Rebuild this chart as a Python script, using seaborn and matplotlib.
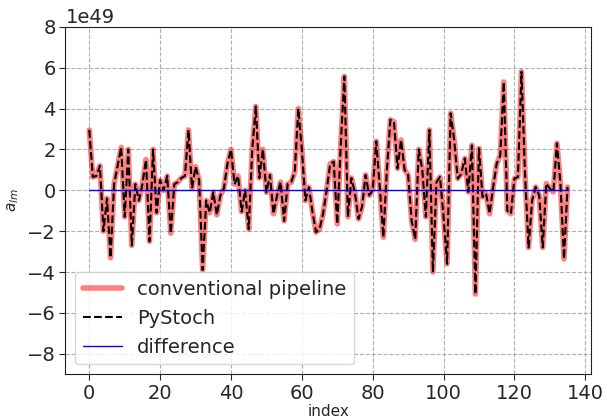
import numpy as np
import pandas as pd
import matplotlib
matplotlib.use("Agg")
import matplotlib.pyplot as plt
import seaborn as sns

# a_lm values (units of 1e49)
alm_conventional = [
    2.95, 0.65, 0.7, 1.2, -2.0, -0.4, -3.3, 0.3, 1.2, 2.1,
    -1.3, 2.0, -2.7, 0.3, -0.5, 0.3, 1.5, -2.5, 2.0, -1.1,
    0.5, 0.0, 0.7, -2.1, 0.3, 0.4, 0.6, 0.7, 2.95, 0.1,
    1.15, 0.5, -3.9, -0.5, -1.1, -0.1, -1.2, -0.25, 0.1, 1.3,
    2.0, 0.3, 0.7, -1.05, 0.0, -1.9, 2.0, 4.1, 0.6, 2.0,
    -0.1, 0.75, -1.15, -0.25, 0.4, -1.5, 0.3, 0.4, 0.9, 4.0,
    2.0, -0.5, 0.15, -1.05, -2.05, -1.9, -1.15, 0.0, 1.3, 1.4,
    -1.65, 2.3, 5.57, -1.3, 0.6, -0.15, -1.4, -0.8, 0.75, -0.25,
    0.0, 2.4, 0.15, -2.3, 1.0, 3.45, 3.36, 1.07, 2.46, 1.0,
    0.75, -1.5, -2.4, 2.0, 1.0, -1.3, 2.95, -4.0, 0.4, 0.65,
    -1.3, -3.6, 3.77, 2.46, 0.57, 0.8, 1.56, -0.08, 2.2, -5.08,
    2.05, -0.33, -0.16, -1.15, 0.16, 1.3, 1.7, 5.3, -1.0, -1.15,
    0.57, 0.65, 5.8, 0.8, -2.8, -0.5, 0.16, -0.25, -2.8, 0.33,
    0.08, -0.08, 2.3, 0.33, -3.36, 0.16,
]
alm_pystoch = list(alm_conventional)

a = np.array(alm_conventional) * 1e49
b = np.array(alm_pystoch) * 1e49
idx = np.arange(len(a))
df = pd.DataFrame({"index": idx, "conv": a, "pystoch": b, "diff": a - b})

sns.set_style("ticks")
plt.rcParams["font.family"] = ["DejaVu Sans"]

fig, ax = plt.subplots(figsize=(6.11, 4.19), dpi=100)
fig.subplots_adjust(left=0.107, right=0.968, top=0.936, bottom=0.107)

sns.lineplot(data=df, x="index", y="conv", ax=ax, color="red", alpha=0.5, lw=4,
             label="conventional pipeline")
sns.lineplot(data=df, x="index", y="pystoch", ax=ax, color="black", lw=1.5,
             linestyle="--", label="PyStoch")
sns.lineplot(data=df, x="index", y="diff", ax=ax, color="blue", lw=1,
             label="difference")

ax.set_ylim(-9e49, 8e49)
ax.set_yticks(np.arange(-8, 9, 2) * 1e49)
ax.set_xticks(np.arange(0, 141, 20))
ax.grid(True, ls="--", color="#b0b0b0", lw=0.8)
ax.tick_params(labelsize=14, direction="out", length=4, pad=3)
ax.yaxis.get_offset_text().set_fontsize(14)
ax.set_xlabel("index", fontsize=11, labelpad=1)
ax.set_ylabel(r"$a_{lm}$", fontsize=11)
for s in ax.spines.values():
    s.set_color("#222222")
ax.legend(loc="lower left", fontsize=14, handlelength=2.0)

plt.savefig("out.png", dpi=100)
